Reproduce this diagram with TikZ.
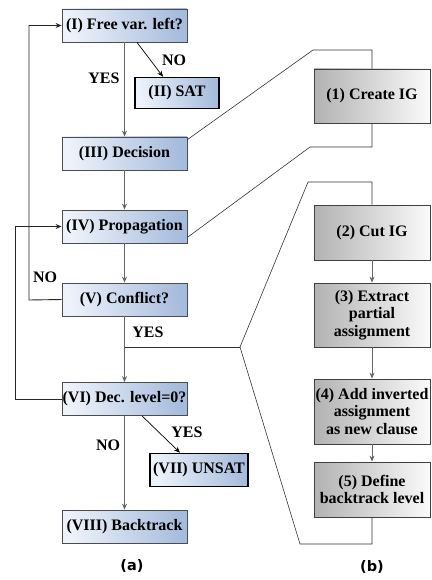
\documentclass[tikz,border=0pt]{standalone}
\usepackage{fontspec}
\setmainfont{Liberation Serif}
\newfontfamily\capfont{DejaVu Sans}
\usetikzlibrary{arrows.meta}

\definecolor{blueL}{HTML}{EEF3FB}
\definecolor{blueR}{HTML}{A6BCDC}
\definecolor{grayL}{HTML}{B2B2B2}
\definecolor{grayR}{HTML}{FAFAFA}
\definecolor{flowgray}{HTML}{666666}

\tikzset{
  boxtext/.style={font=\fontsize{16}{17.5}\selectfont\bfseries, align=center, inner sep=0pt},
  solverbox/.style={boxtext, draw=black!70, line width=0.8pt,
    left color=blueL, right color=blueR, shading angle=100,
    minimum width=125pt, minimum height=33pt},
  resultbox/.style={solverbox, draw=black, line width=1.6pt},
  stagebox/.style={boxtext, draw=black!75, line width=0.8pt,
    left color=grayL, right color=grayR,
    minimum width=116pt},
  flow/.style={draw=flowgray, line width=1pt, -{Stealth[length=6pt,width=5pt]}},
  loopline/.style={draw=black!85, line width=0.9pt, -{Stealth[length=6pt,width=5pt]}},
  branch/.style={draw=black, line width=0.7pt, -{Stealth[length=6pt,width=5pt]}},
  bracket/.style={draw=black!80, line width=0.6pt},
  edgelabel/.style={font=\fontsize{16}{17}\selectfont\bfseries, inner sep=0pt},
  sublabel/.style={font=\capfont\fontsize{14.5}{17}\selectfont\bfseries, inner sep=0pt}
}

\begin{document}
\begin{tikzpicture}[x=1pt, y=-1pt]
\useasboundingbox (0,0) rectangle (431,580);

% main solver loop
\node[solverbox] (I)    at (124.5,25.5)  {(I) Free var. left?};
\node[resultbox, minimum width=84pt, minimum height=31pt] (II) at (177,93) {(II) SAT};
\node[solverbox] (III)  at (124.5,153.5) {(III) Decision};
\node[solverbox] (IV)   at (124.5,226.5) {(IV) Propagation};
\node[solverbox] (V)    at (124.5,299.5) {(V) Conflict?};
\node[solverbox] (VI)   at (124.5,399)   {(VI) Dec. level=0?};
\node[resultbox, minimum width=98pt, minimum height=33pt] (VII) at (199,470) {(VII) UNSAT};
\node[solverbox] (VIII) at (124.5,526.5) {(VIII) Backtrack};

% conflict analysis stages
\node[stagebox, minimum height=54pt] (c1) at (372,96)    {(1) Create IG};
\node[stagebox, minimum height=55pt] (c2) at (372,232.5) {(2) Cut IG};
\node[stagebox, minimum height=64pt] (c3) at (372,315)   {(3) Extract\\partial\\assignment};
\node[stagebox, minimum height=65pt] (c4) at (372,411.5) {(4) Add inverted\\assignment\\as new clause};
\node[stagebox, minimum height=55pt] (c5) at (372,489.5) {(5) Define\\backtrack level};

% edge labels
\node[edgelabel] (yes1) at (104,78)  {YES};
\node[edgelabel] (no1)  at (174,60)  {NO};
\node[edgelabel] (no2)  at (45,277)  {NO};
\node[edgelabel] (yes2) at (148,332) {YES};
\node[edgelabel] (yes3) at (187,432) {YES};
\node[edgelabel] (no3)  at (108,445) {NO};

\node[sublabel] (capa) at (132,566) {(a)};
\node[sublabel] (capb) at (372,567) {(b)};

% flow connectors
\draw[flow] (I) -- (III);
\draw[flow] (III) -- (IV);
\draw[flow] (IV) -- (V);
\draw[flow] (V) -- (VI);
\draw[flow] (VI) -- (VIII);
\draw[branch] ([xshift=12.5pt]I.south) -- ([xshift=-14pt]II.north);
\draw[branch] ([xshift=17.5pt]VI.south) -- ([xshift=-19pt]VII.north);

% feedback loops
\coordinate (loopA) at (29,300);
\coordinate (loopB) at (15,399);
\draw[loopline] (V.west) -- (loopA) |- (I.west);
\draw[loopline] (VI.west) -- (loopB) |- (IV.west);

\draw[flow] (c2) -- (c3);
\draw[flow] (c3) -- (c4);
\draw[flow] (c4) -- (c5);

% brackets tying the stages to the solver steps
\coordinate (t1) at (313,50);
\coordinate (t2) at (372,50);
\coordinate (t3) at (310,147);
\coordinate (t4) at (372,147);
\draw[bracket] ([yshift=-3pt]III.north east) -- (t1) -- (t2) -- (c1.north);
\draw[bracket] ([yshift=6pt]IV.south east) -- (t3) -- (t4) -- (c1.south);

\coordinate (u1) at (372,182);
\coordinate (u2) at (308,182);
\coordinate (u3) at (240,347);
\coordinate (u4) at (300,544);
\coordinate (u5) at (372,544);
\coordinate (split) at (124.5,347);
\draw[bracket] (c2.north) -- (u1) -- (u2) -- (u3) -- (u4) -- (u5) -- (c5.south);
\draw[bracket] (split) -- (u3);
\end{tikzpicture}
\end{document}
